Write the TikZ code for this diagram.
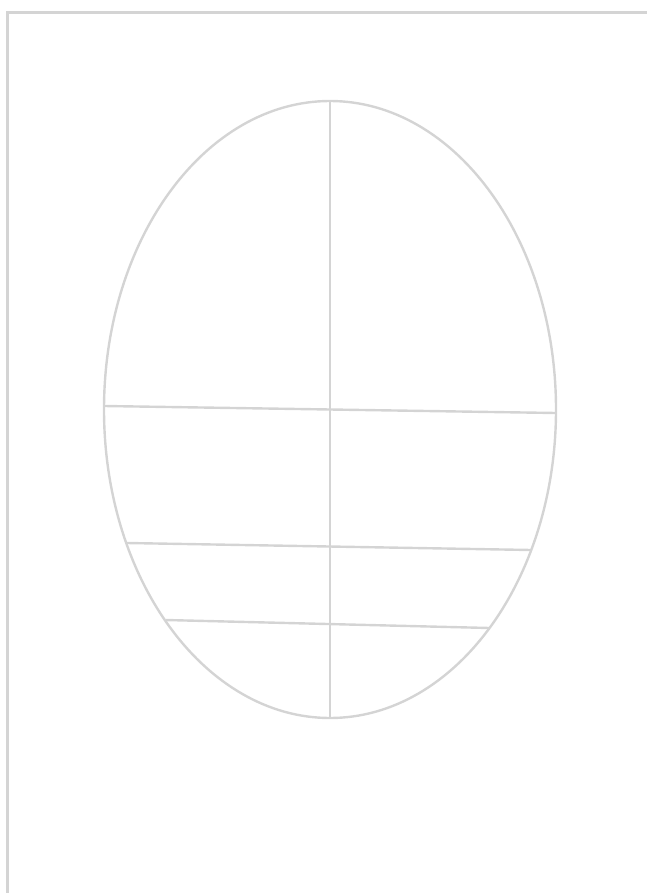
\documentclass[tikz,border=0pt]{standalone}
\definecolor{linegray}{HTML}{D4D4D4}
\begin{document}
\begin{tikzpicture}[x=1pt,y=-1pt,
  frame/.style={draw=linegray,line width=3pt},
  part/.style={draw=linegray,line width=2.4pt}]
\useasboundingbox (0,0) rectangle (647,893);
\draw[frame] (7.5,893) -- (7.5,12.5) -- (647,12.5);
\coordinate (c) at (330,409.5);
\draw[part] (c) ellipse [x radius=226, y radius=308.5];
\coordinate (top) at (330,101);
\coordinate (bot) at (330,718);
\draw[part] (top) -- (bot);
\draw[part] (104.3,406) -- (555.8,413);
\draw[part] (127,543) -- (531,550);
\draw[part] (165.5,620) -- (489.5,628);
\end{tikzpicture}
\end{document}
